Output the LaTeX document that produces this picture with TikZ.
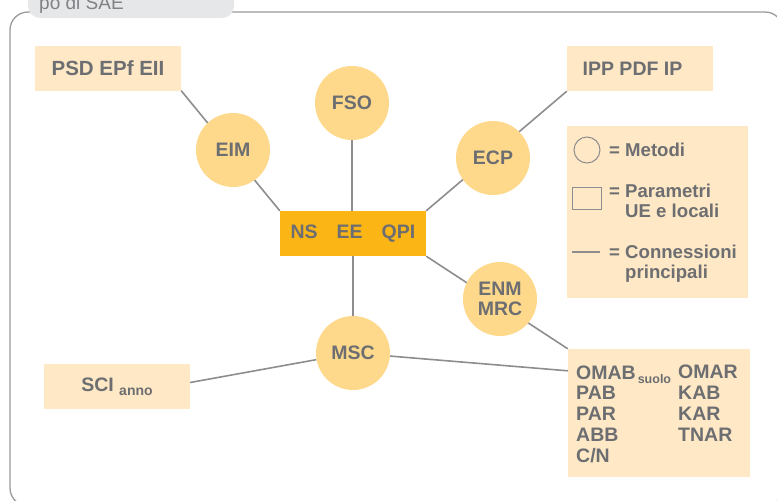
\documentclass[tikz,border=0pt]{standalone}
\usepackage{fontspec}
\setmainfont{Liberation Sans}
\usetikzlibrary{backgrounds}
\definecolor{testo}{HTML}{6D6E71}
\definecolor{crema}{HTML}{FEE8C5}
\definecolor{albicocca}{HTML}{FED98C}
\definecolor{ambra}{HTML}{FBB515}
\definecolor{linea}{HTML}{8D8D8F}
\definecolor{cornice}{HTML}{9A9A9C}
\definecolor{linguetta}{HTML}{E6E7E8}
\definecolor{titolo}{HTML}{808285}
\tikzset{
  param/.style={fill=crema,minimum width=146pt,minimum height=45pt,inner sep=0pt},
  metodo/.style={circle,fill=albicocca,minimum size=74pt,inner sep=0pt,align=center},
  conn/.style={linea,line width=1.6pt},
  etich/.style={text=testo,font=\fontsize{19.5}{20.7}\selectfont\bfseries},
  voce/.style={anchor=base west,inner sep=0pt,align=left,font=\fontsize{18.6}{20}\selectfont\bfseries}
}
\begin{document}
\begin{tikzpicture}[x=1pt,y=-1pt,every node/.style={etich}]
\useasboundingbox (0,0) rectangle (777,501);
\clip (0,0) rectangle (777,501);
\draw[cornice,line width=1.3pt,rounded corners=18pt](10,12) rectangle (783,506);
\fill[linguetta,rounded corners=12pt](28,-20) rectangle (234,18);
\node[anchor=base west,inner sep=0pt,text=titolo,font=\fontsize{19}{20}\selectfont](tab) at (39,9) {po di SAE};

\node[param](psd) at (108,68) {\fontsize{20.5}{21}\selectfont PSD EPf EII};
\node[param](ipp) at (640,68.5) {IPP PDF IP\hspace*{15pt}};
\node[param](sci) at (117,386.5) {SCI \raisebox{-4pt}{\fontsize{14}{14}\selectfont anno}};
\node[fill=ambra,minimum width=146pt,minimum height=45pt,inner sep=0pt](core) at (353,233.5) {NS\hspace{19pt}EE\hspace{19pt}QPI};
\node[metodo](eim) at (233,150) {EIM};
\node[metodo](fso) at (352,103) {FSO};
\node[metodo](ecp) at (493,158) {ECP};
\node[metodo](enm) at (500,299) {ENM\\MRC};
\node[metodo](msc) at (353,353) {MSC};

\node[param,minimum width=182pt,minimum height=128pt](omab) at (659,413) {};
\node[anchor=base west,inner sep=0pt,align=left](col1) at (576,462) {OMAB\hspace{2pt}\raisebox{-4pt}{\fontsize{12.5}{13}\selectfont suolo}\\PAB\\PAR\\ABB\\C/N};
\node[anchor=base west,inner sep=0pt,align=left](col2) at (678,441) {OMAR\\KAB\\KAR\\TNAR};

\node[fill=crema,minimum width=181pt,minimum height=172pt,inner sep=0pt](leg) at (657.5,212) {};
\draw[linea,line width=1pt](587,150) circle (13pt);
\draw[linea,line width=1pt](572,187) rectangle (601,209);
\draw[linea,line width=1.3pt](572,252) -- (600,252);
\node[voce](metodi) at (609,156) {= Metodi};
\node[voce](parametri) at (609,217) {= Parametri\\\hphantom{= }UE e locali};
\node[voce](connessioni) at (609,278) {= Connessioni\\\hphantom{= }principali};

\begin{scope}[on background layer]
\draw[conn](psd.south east) -- (core.north west);
\draw[conn](fso) -- (fso|-core.north);
\draw[conn](ipp.south west) -- (core.north east);
\draw[conn](core.south east) -- (omab.north west);
\draw[conn](core.south-|msc) -- (msc);
\draw[conn](msc) -- ([yshift=4pt]sci.east);
\draw[conn](msc) -- ([yshift=-22pt]omab.north west);
\end{scope}
\end{tikzpicture}
\end{document}
